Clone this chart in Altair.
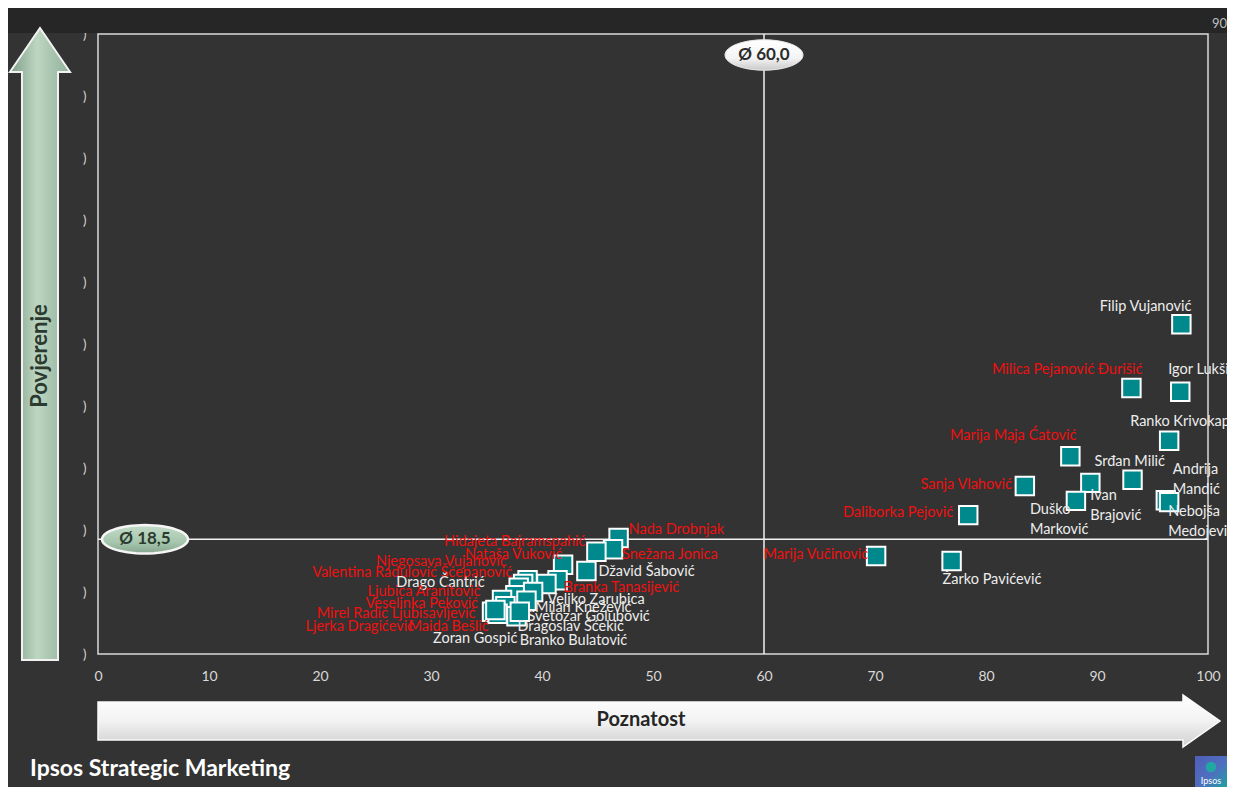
import altair as alt
import pandas as pd
import numpy as np

# ---------------- data ----------------
names = [
    "Filip Vujanović", "Igor Lukšić", "Milica Pejanović Đurišić", "Ranko Krivokapić",
    "Marija Maja Ćatović", "Srđan Milić", "Andrija Mandić", "Nebojša Medojević",
    "Sanja Vlahović", "Ivan Brajović", "Duško Marković", "Daliborka Pejović",
    "Marija Vučinović", "Žarko Pavićević",
    "Nada Drobnjak", "Snežana Jonica", "Hidajeta Bajramspahić", "Nataša Vuković",
    "Džavid Šabović", "Branka Tanasijević", "Veljko Zarubica", "Njegosava Vujanović",
    "Valentina Radulović Šćepanović", "Drago Čantrić", "Ljubica Aranitović",
    "Milan Knežević", "Veselinka Peković", "Svetozar Golubović",
    "Mirel Radić Ljubisavljević", "Ljerka Dragićević", "Maida Bešlić",
    "Dragoslav Šćekić", "Zoran Gospić", "Branko Bulatović",
]
poznatost = [
    97.6, 97.5, 93.1, 96.5, 87.6, 93.2, 96.2, 96.5, 83.5, 89.4, 88.1, 78.4, 70.1, 76.9,
    46.9, 46.4, 44.9, 41.9, 44.0, 41.4, 40.4, 38.7, 38.3, 37.9, 37.6, 39.2, 36.4, 38.6,
    36.7, 35.5, 36.0, 37.7, 35.8, 38.0,
]
povjerenje = [
    53.2, 42.3, 42.9, 34.4, 31.9, 28.1, 24.8, 24.5, 27.1, 27.6, 24.7, 22.4, 15.8, 15.0,
    18.7, 16.9, 16.5, 14.4, 13.4, 11.9, 11.3, 11.9, 11.3, 10.7, 9.5, 10.0, 8.7, 8.6,
    7.7, 6.8, 6.5, 6.1, 7.1, 6.8,
]
zena = [
    False, False, True, False, True, False, False, False, True, False, False, True, True, False,
    True, True, True, True, False, True, False, True, True, False, True, False, True, False,
    True, True, True, False, False, False,
]
two_line = {
    "Andrija Mandić": "Andrija\nMandić",
    "Nebojša Medojević": "Nebojša\nMedojević",
    "Ivan Brajović": "Ivan\nBrajović",
    "Duško Marković": "Duško\nMarković",
}
AVG_X = 60.0
AVG_Y = 18.5
x_ticks = list(range(0, 101, 10))
y_ticks = list(range(0, 101, 10))

# ---------------- layout / style ----------------
LABEL_LAYOUT = {  # name: (align, dx, dy) in pixels relative to the marker
    "Filip Vujanović": ("right", 10, -17),
    "Igor Lukšić": ("left", -12, -22),
    "Milica Pejanović Đurišić": ("right", 11, -18),
    "Ranko Krivokapić": ("left", -39, -19),
    "Marija Maja Ćatović": ("right", 6, -20),
    "Srđan Milić": ("left", -38, -18),
    "Andrija Mandić": ("left", 7, -37),
    "Nebojša Medojević": ("left", -1, 3),
    "Sanja Vlahović": ("right", -13, -1),
    "Ivan Brajović": ("left", 0, 6),
    "Duško Marković": ("left", -46, 2),
    "Daliborka Pejović": ("right", -15, -2),
    "Marija Vučinović": ("right", -8, -1),
    "Žarko Pavićević": ("left", -9, 19),
    "Nada Drobnjak": ("left", 10, -8),
    "Snežana Jonica": ("left", 9, 6),
    "Hidajeta Bajramspahić": ("right", -11, -10),
    "Nataša Vuković": ("right", -1, -10),
    "Džavid Šabović": ("left", 12, 1),
    "Branka Tanasijević": ("left", 6, 8),
    "Veljko Zarubica": ("left", 1, 16),
    "Njegosava Vujanović": ("right", -21, -18),
    "Valentina Radulović Šćepanović": ("right", -11, -11),
    "Drago Čantrić": ("right", -34, -5),
    "Ljubica Aranitović": ("right", -35, -3),
    "Milan Knežević": ("left", 2, 16),
    "Veselinka Peković": ("right", -24, 4),
    "Svetozar Golubović": ("left", 1, 16),
    "Mirel Radić Ljubisavljević": ("right", -30, 8),
    "Ljerka Dragićević": ("right", -78, 15),
    "Maida Bešlić": ("right", -9, 13),
    "Dragoslav Šćekić": ("left", 1, 11),
    "Zoran Gospić": ("right", 22, 29),
    "Branko Bulatović": ("left", 0, 29),
}

BG = "#333333"
BAND = "#262626"
TEAL = "#00898c"
RED = "#f01010"
WHITE = "#ededed"
FONT = "Lato"
W, H = 1110, 620

XS = alt.Scale(domain=[0, 100], nice=False, zero=False)
YS = alt.Scale(domain=[0, 100], nice=False, zero=False)
XA = alt.Axis(values=x_ticks, title=None, grid=False, ticks=False, domain=False, labelFlush=False,
              labelColor="#d9d9d9", labelFont=FONT, labelFontSize=14, labelPadding=15)
YA = alt.Axis(values=y_ticks, title=None, grid=False, ticks=False, domain=False, labelFlush=False,
              labelExpr="')'", labelColor="#d9d9d9", labelFont=FONT, labelFontSize=13,
              labelPadding=12)


def X(f):
    return alt.X(f, type="quantitative", scale=XS, axis=XA)


def Y(f):
    return alt.Y(f, type="quantitative", scale=YS, axis=YA)


def ellipse_path(ry, n=60):
    t = np.linspace(0, 2 * np.pi, n, endpoint=False)
    pts = [f"{np.cos(a):.4f} {ry * np.sin(a):.4f}" for a in t]
    return "M " + " L ".join(pts) + " Z"


one = pd.DataFrame({"k": [0]})

df = pd.DataFrame({"name": names, "x": poznatost, "y": povjerenje, "zena": zena})

layers = []

# dark band at the top
layers.append(alt.Chart(one).mark_rect(color=BAND).encode(
    x=alt.value(-90), x2=alt.value(W + 19), y=alt.value(-26), y2=alt.value(-1)))

# vertical green arrow (Povjerenje)
v_arrow = "M 0 -1 L 0.095 -0.861 L 0.057 -0.861 L 0.057 1 L -0.057 1 L -0.057 -0.861 L -0.095 -0.861 Z"
green_grad = {"gradient": "linear", "x1": 0, "x2": 1, "y1": 0, "y2": 0,
              "stops": [{"offset": 0, "color": "#7f9e87"},
                        {"offset": 0.45, "color": "#bcd6c2"},
                        {"offset": 1, "color": "#91b099"}]}
layers.append(alt.Chart(one).mark_point(shape=v_arrow, size=632 ** 2, filled=True, fill=green_grad,
                                        stroke="#f2f2f2", strokeWidth=2, opacity=1).encode(
    x=alt.value(-58), y=alt.value(310)))
layers.append(alt.Chart(one).mark_text(angle=270, font=FONT, fontSize=22, fontWeight="bold",
                                       color="#2c3a30").encode(
    x=alt.value(-58), y=alt.value(322), text=alt.value("Povjerenje")))

# horizontal white arrow (Poznatost)
h_arrow = "M -1 -0.0339 L 0.934 -0.0339 L 0.934 -0.0463 L 1 0 L 0.934 0.0463 L 0.934 0.0339 L -1 0.0339 Z"
white_grad = {"gradient": "linear", "x1": 0, "x2": 0, "y1": 0, "y2": 1,
              "stops": [{"offset": 0, "color": "#ffffff"},
                        {"offset": 0.5, "color": "#f2f2f2"},
                        {"offset": 1, "color": "#cfcfcf"}]}
layers.append(alt.Chart(one).mark_point(shape=h_arrow, size=1122 ** 2, filled=True, fill=white_grad,
                                        stroke="#fafafa", strokeWidth=1.5, opacity=1).encode(
    x=alt.value(561), y=alt.value(687)))
layers.append(alt.Chart(one).mark_text(font=FONT, fontSize=20, fontWeight="bold",
                                       color="#262626").encode(
    x=alt.value(543), y=alt.value(686), text=alt.value("Poznatost")))

# average lines
layers.append(alt.Chart(pd.DataFrame({"v": [AVG_X]})).mark_rule(color="#f2f2f2", strokeWidth=1.5)
              .encode(x=X("v")))
layers.append(alt.Chart(pd.DataFrame({"v": [AVG_Y]})).mark_rule(color="#f2f2f2", strokeWidth=1.5)
              .encode(y=Y("v")))

# markers
layers.append(alt.Chart(df).mark_square(size=340, filled=True, color=TEAL, stroke="white",
                                        strokeWidth=2, opacity=1).encode(x=X("x"), y=Y("y")))

# labels
for n, xv, yv, f in zip(names, poznatost, povjerenje, zena):
    align, dx, dy = LABEL_LAYOUT[n]
    txt = two_line.get(n, n)
    multi = "\n" in txt
    layers.append(
        alt.Chart(pd.DataFrame({"x": [xv], "y": [yv], "t": [txt]}))
        .mark_text(align=align, baseline="top" if multi else "middle", dx=dx, dy=dy,
                   font=FONT, fontSize=14.5, color=RED if f else WHITE,
                   lineBreak="\n", lineHeight=20)
        .encode(x=X("x"), y=Y("y"), text="t:N")
    )

# average badges
avg_x_txt = f"Ø {AVG_X:.1f}".replace(".", ",")
avg_y_txt = f"Ø {AVG_Y:.1f}".replace(".", ",")
badge_white = {"gradient": "linear", "x1": 0, "x2": 0, "y1": 0, "y2": 1,
               "stops": [{"offset": 0, "color": "#ffffff"}, {"offset": 0.6, "color": "#f4f4f4"},
                         {"offset": 1, "color": "#c9c9c9"}]}
badge_green = {"gradient": "linear", "x1": 0, "x2": 0, "y1": 0, "y2": 1,
               "stops": [{"offset": 0, "color": "#c3dcc8"}, {"offset": 0.6, "color": "#a7c6ae"},
                         {"offset": 1, "color": "#86a58e"}]}
layers.append(alt.Chart(pd.DataFrame({"v": [AVG_X]})).mark_point(
    shape=ellipse_path(0.39), size=78 ** 2, filled=True, fill=badge_white,
    stroke="#e6e6e6", strokeWidth=1, opacity=1).encode(x=X("v"), y=alt.value(21)))
layers.append(alt.Chart(pd.DataFrame({"v": [AVG_X], "t": [avg_x_txt]})).mark_text(
    font=FONT, fontSize=17, fontWeight="bold", color="#2b2b2b").encode(
    x=X("v"), y=alt.value(21), text="t:N"))
layers.append(alt.Chart(pd.DataFrame({"v": [AVG_Y]})).mark_point(
    shape=ellipse_path(0.33), size=86 ** 2, filled=True, fill=badge_green,
    stroke="#f5f5f5", strokeWidth=2.5, opacity=1).encode(x=alt.value(47), y=Y("v")))
layers.append(alt.Chart(pd.DataFrame({"v": [AVG_Y], "t": [avg_y_txt]})).mark_text(
    font=FONT, fontSize=17, fontWeight="bold", color="#2b3a2e").encode(
    x=alt.value(47), y=Y("v"), text="t:N"))

# stray secondary-axis label at top right
layers.append(alt.Chart(one).mark_text(align="right", font=FONT, fontSize=13, color="#bfbfbf").encode(
    x=alt.value(W + 19), y=alt.value(-10), text=alt.value("90")))

# footer
layers.append(alt.Chart(one).mark_text(align="left", font=FONT, fontSize=23, fontWeight="bold",
                                       color="#ffffff").encode(
    x=alt.value(-68), y=alt.value(735), text=alt.value("Ipsos Strategic Marketing")))
logo_grad = {"gradient": "linear", "x1": 0, "x2": 1, "y1": 0, "y2": 1,
             "stops": [{"offset": 0, "color": "#4f5fb8"}, {"offset": 0.55, "color": "#4f6fbf"},
                       {"offset": 1, "color": "#1aa3a0"}]}
layers.append(alt.Chart(one).mark_rect(fill=logo_grad).encode(
    x=alt.value(W - 13), x2=alt.value(W + 19), y=alt.value(722), y2=alt.value(754)))
layers.append(alt.Chart(one).mark_point(shape="circle", size=110, filled=True, color="#23a7a3",
                                        opacity=1).encode(x=alt.value(W + 3), y=alt.value(733)))
layers.append(alt.Chart(one).mark_text(font=FONT, fontSize=9, color="#ffffff").encode(
    x=alt.value(W + 3), y=alt.value(747), text=alt.value("Ipsos")))

chart = alt.layer(*layers).properties(
    width=W, height=H,
    autosize="none",
    padding={"left": 90, "top": 26, "right": 19, "bottom": 133},
    background=BG,
).configure_view(stroke="#d9d9d9", strokeWidth=1.5)

chart.save("out.html", embed_options={"renderer": "svg", "actions": False})
